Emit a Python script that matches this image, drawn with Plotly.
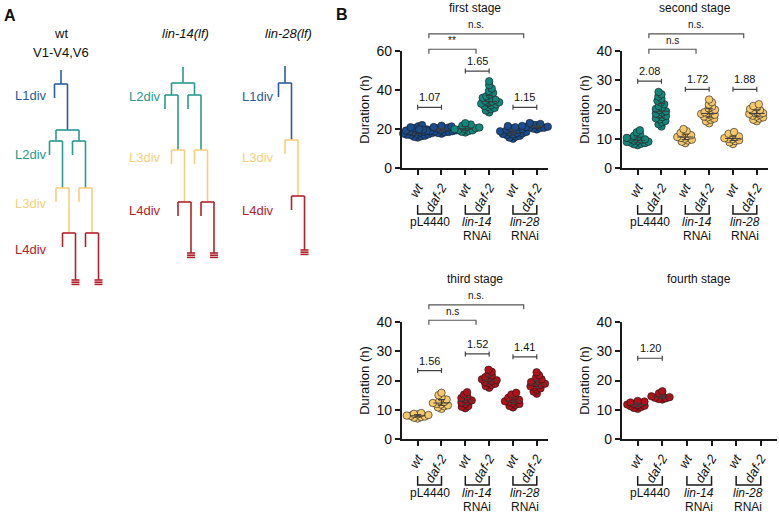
import numpy as np
import plotly.graph_objects as go

W, H = 779, 513
OFF = 0                  # page body margin is reset to 0 in the written page
FW, FH = W - OFF, H - OFF
FONT = "Arial, 'Liberation Sans', sans-serif"

# ---------------- data ----------------
stage_titles = ["first stage", "second stage", "third stage", "fourth stage"]
tick_text = ["<i>wt</i>", "<i>daf-2</i>", "<i>wt</i>", "<i>daf-2</i>", "<i>wt</i>", "<i>daf-2</i>"]
group_line1 = ["pL4440", "<i>lin-14</i>", "<i>lin-28</i>"]
group_line2 = ["", "RNAi", "RNAi"]
y_max = [60, 40, 40, 40]
y_dtick = [20, 10, 10, 10]

# first stage (h)
first_pl_wt = [15.6, 16.0, 16.3, 16.6, 16.9, 17.1, 17.3, 17.5, 17.7, 17.9, 18.0, 18.2, 18.4, 18.6,
               18.8, 19.0, 19.2, 19.5, 19.8, 20.1, 20.5, 20.9, 21.4, 22.0]
first_pl_daf = [17.6, 18.0, 18.3, 18.5, 18.7, 18.9, 19.0, 19.1, 19.3, 19.4, 19.5, 19.6, 19.8, 20.0,
                20.2, 20.4, 20.7, 21.0, 21.3, 21.7]
first_14_wt = [18.2, 18.6, 19.0, 19.3, 19.6, 19.9, 20.1, 20.4, 20.8, 21.2, 21.7, 22.3, 23.0]
first_14_daf = [28.5, 29.5, 30.2, 30.8, 31.3, 31.8, 32.2, 32.6, 33.0, 33.3, 33.7, 34.1, 34.5, 35.0,
                35.5, 36.0, 36.8, 37.6, 38.5, 39.5, 40.8, 42.5, 44.5]
first_28_wt = [15.0, 15.6, 16.1, 16.5, 16.9, 17.2, 17.5, 17.8, 18.0, 18.3, 18.5, 18.8, 19.1, 19.4,
               19.7, 20.0, 20.4, 20.9, 21.5]
first_28_daf = [19.8, 20.2, 20.5, 20.7, 20.9, 21.0, 21.2, 21.4, 21.6, 21.9, 22.2, 22.6, 23.1]

# second stage (h)
second_pl_wt = [7.8, 8.1, 8.3, 8.5, 8.7, 8.9, 9.0, 9.2, 9.4, 9.6, 9.8, 10.0, 10.3, 10.6, 11.0,
                11.6, 12.2, 12.9]
second_pl_daf = [14.2, 15.0, 15.6, 16.1, 16.6, 17.0, 17.4, 17.8, 18.2, 18.6, 19.0, 19.4, 19.8,
                 20.2, 20.7, 21.2, 21.8, 22.4, 23.0, 23.7, 24.4, 25.2, 26.0]
second_14_wt = [8.5, 9.0, 9.4, 9.7, 10.0, 10.3, 10.6, 10.9, 11.2, 11.6, 12.0, 12.6, 13.3]
second_14_daf = [15.3, 16.0, 16.5, 16.9, 17.3, 17.6, 17.9, 18.2, 18.5, 18.8, 19.1, 19.5, 19.9,
                 20.4, 21.0, 21.7, 22.5, 23.4]
second_28_wt = [8.2, 8.8, 9.2, 9.5, 9.8, 10.0, 10.2, 10.5, 10.8, 11.2, 11.7, 12.3]
second_28_daf = [16.0, 16.5, 16.9, 17.3, 17.6, 17.9, 18.2, 18.5, 18.8, 19.1, 19.4, 19.8, 20.2,
                 20.7, 21.2, 21.8]

# third stage (h)
third_pl_wt = [7.0, 7.3, 7.5, 7.7, 7.9, 8.0, 8.2, 8.4, 8.6, 8.9]
third_pl_daf = [10.3, 10.8, 11.2, 11.5, 11.8, 12.0, 12.3, 12.6, 13.0, 13.5, 14.2, 15.0, 15.8]
third_14_wt = [10.5, 11.0, 11.3, 12.0, 12.4, 12.8, 13.2, 13.5, 14.0, 14.5, 15.2, 16.0]
third_14_daf = [17.5, 18.1, 18.5, 18.9, 19.2, 19.5, 19.8, 20.1, 20.4, 20.8, 21.2, 21.7, 22.3,
                23.0, 23.7]
third_28_wt = [10.8, 11.3, 11.7, 12.0, 12.3, 12.6, 12.9, 13.1, 13.4, 13.7, 14.1, 14.6, 15.2, 15.8]
third_28_daf = [15.5, 16.2, 16.8, 17.3, 17.7, 18.0, 18.3, 18.6, 18.9, 19.2, 19.5, 19.9, 20.4,
                21.0, 21.8, 22.8]

# fourth stage (h)
fourth_pl_wt = [10.3, 10.6, 10.9, 11.2, 11.4, 11.6, 11.8, 12.0, 12.2, 12.5, 12.8, 13.0]
fourth_pl_daf = [13.5, 13.7, 13.9, 14.1, 14.3, 14.6, 15.0, 15.6, 16.3]

# fold-change labels (wt vs daf-2 within each RNAi) and their bracket heights (h)
fold_labels = [["1.07", "1.65", "1.15"], ["2.08", "1.72", "1.88"],
               ["1.56", "1.52", "1.41"], ["1.20", None, None]]
fold_heights = [[31.1, 49.7, 31.1], [29.7, 26.9, 26.9],
                [23.4, 29.1, 28.1], [27.6, None, None]]
# comparison of daf-2 effect against pL4440: (vs lin-14, vs lin-28)
comp_labels = [["**", "n.s."], ["n.s", "n.s."], ["n.s", "n.s."], [None, None]]

BLUE, TEAL, YELLOW, RED = "#1b4d8d", "#14877c", "#f6c86c", "#b0111a"
stage_data = [
    [first_pl_wt, first_pl_daf, first_14_wt, first_14_daf, first_28_wt, first_28_daf],
    [second_pl_wt, second_pl_daf, second_14_wt, second_14_daf, second_28_wt, second_28_daf],
    [third_pl_wt, third_pl_daf, third_14_wt, third_14_daf, third_28_wt, third_28_daf],
    [fourth_pl_wt, fourth_pl_daf, [], [], [], []],
]
stage_colors = [
    [BLUE, BLUE, TEAL, TEAL, BLUE, BLUE],
    [TEAL, TEAL, YELLOW, YELLOW, YELLOW, YELLOW],
    [YELLOW, YELLOW, RED, RED, RED, RED],
    [RED, RED, RED, RED, RED, RED],
]

# lineage schematics (panel A): division events (kind, level, colour)
T_BLUE, T_TEAL, T_YEL, T_RED = "#2b5d9c", "#2a9a90", "#f7cf7c", "#b3222a"
tree_headers = [["wt", "V1-V4,V6"], ["<i>lin-14(lf)</i>"], ["<i>lin-28(lf)</i>"]]
tree_events = [
    [("asym", 84, T_BLUE), ("sym", 130, T_TEAL), ("asym", 141, T_TEAL), ("asym", 188, T_YEL), ("asym", 233, T_RED)],
    [("sym", 83, T_TEAL), ("asym", 95, T_TEAL), ("asym", 150, T_YEL), ("asym", 202, T_RED)],
    [("asym", 83, T_BLUE), ("asym", 140, T_YEL), ("asym", 196, T_RED)],
]
tree_labels = [
    [("L1div", 95, T_BLUE), ("L2div", 154, T_TEAL), ("L3div", 203, T_YEL), ("L4div", 249, T_RED)],
    [("L2div", 96, T_TEAL), ("L3div", 157, T_YEL), ("L4div", 210, T_RED)],
    [("L1div", 96, T_BLUE), ("L3div", 157, T_YEL), ("L4div", 210, T_RED)],
]

# ---------------- layout geometry (window pixels) ----------------
x_dom_px = [(401.7, 548), (621.7, 768), (401.7, 548), (621.7, 777)]
x_rng = [(-0.67, 5.47), (-0.67, 5.47), (-0.67, 5.47), (-0.65, 5.66)]
y_dom_px = [(51, 168), (51, 168), (322, 439), (322, 439)]
tree_root = [(61, 70, 280), (183, 67, 253), (285, 66, 250)]
tree_label_x = [13, 127, 240]
tree_header_x = [61, 185, 288]


def px_x(p):
    return (p - OFF) / FW


def px_y(p):
    return 1 - (p - OFF) / FH


fig = go.Figure()


def swarm(vals, ppx, ppy, d=3.8):
    vals = np.asarray(vals, float)
    order = np.argsort(vals)
    placed = []
    off = np.zeros(len(vals))
    for i in order:
        y = vals[i] * ppy
        forb = []
        for xp, yp in placed:
            dy = abs(y - yp)
            if dy < d:
                dx = np.sqrt(d * d - dy * dy)
                forb.append((xp - dx, xp + dx))
        cands = [0.0] + [e for iv in forb for e in iv]
        cands.sort(key=lambda c: (abs(c), c))
        xx = 0.0
        for c in cands:
            if all(not (lo + 1e-6 < c < hi - 1e-6) for lo, hi in forb):
                xx = c
                break
        placed.append((xx, y))
        off[i] = xx / ppx
    return off


layout_axes = {}
annotations = []
shapes = []
for s in range(4):
    n = "" if s == 0 else str(s + 1)
    xa, ya = "x" + n, "y" + n
    x0p, x1p = x_dom_px[s]
    y0p, y1p = y_dom_px[s]
    ppx = (x1p - x0p) / (x_rng[s][1] - x_rng[s][0])
    ppy = (y1p - y0p) / y_max[s]
    axis_common = dict(showline=True, linecolor="#1a1a1a", linewidth=1.5, ticks="outside",
                       ticklen=5, tickwidth=1.5, tickcolor="#1a1a1a", showgrid=False,
                       zeroline=False, fixedrange=True)
    layout_axes["xaxis" + n] = dict(domain=[px_x(x0p), px_x(x1p)], range=list(x_rng[s]), anchor=ya,
                                    tickvals=list(range(6)), ticktext=tick_text, tickangle=-60,
                                    tickfont=dict(size=13, color="#111"), **axis_common)
    layout_axes["yaxis" + n] = dict(domain=[px_y(y1p), px_y(y0p)], range=[0, y_max[s]], anchor=xa,
                                    dtick=y_dtick[s], tickfont=dict(size=14, color="#111"),
                                    title=dict(text="Duration (h)", font=dict(size=13, color="#111"),
                                               standoff=4), **axis_common)
    # points
    for g in range(6):
        vals = stage_data[s][g]
        if not vals:
            continue
        off = swarm(vals, ppx, ppy)
        fig.add_trace(go.Scatter(x=g + off, y=vals, mode="markers", xaxis=xa, yaxis=ya,
                                 marker=dict(size=7.5, color=stage_colors[s][g],
                                             line=dict(color="#1a1a1a", width=0.6)),
                                 showlegend=False, hoverinfo="skip", cliponaxis=False))
        med = float(np.median(vals))
        q1, q3 = np.percentile(vals, [25, 75])
        fig.add_trace(go.Scatter(x=[g - 0.33, g + 0.33, None, g, g, None, g - 0.15, g + 0.15, None,
                                    g - 0.15, g + 0.15],
                                 y=[med, med, None, q1, q3, None, q1, q1, None, q3, q3],
                                 mode="lines", line=dict(color="#3d3d3d", width=1),
                                 xaxis=xa, yaxis=ya, showlegend=False, hoverinfo="skip"))
    # stage title
    annotations.append(dict(text=stage_titles[s], xref="paper", yref="paper",
                            x=px_x((x0p + x1p) / 2), y=px_y(y0p - 43), showarrow=False,
                            font=dict(size=12, color="#111"), xanchor="center", yanchor="middle"))
    # group brackets below axis
    for k in range(3):
        a, b = 2 * k, 2 * k + 1
        shapes.append(dict(type="path", xref=xa, yref=ya + " domain",
                           path=f"M {a},-0.316 L {a},-0.393 L {b},-0.393 L {b},-0.316",
                           line=dict(color="#1a1a1a", width=1.5)))
        annotations.append(dict(text=group_line1[k], xref=xa, yref=ya + " domain", x=(a + b) / 2,
                                y=-0.462, showarrow=False, font=dict(size=12, color="#111"),
                                yanchor="middle"))
        if group_line2[k]:
            annotations.append(dict(text=group_line2[k], xref=xa, yref=ya + " domain", x=(a + b) / 2,
                                    y=-0.585, showarrow=False, font=dict(size=12, color="#111"),
                                    yanchor="middle"))
    # fold-change brackets
    for k in range(3):
        lab = fold_labels[s][k]
        if lab is None:
            continue
        hgt = fold_heights[s][k]
        a, b = 2 * k, 2 * k + 1
        t = 2.5 / ppy
        shapes.append(dict(type="path", xref=xa, yref=ya,
                           path=f"M {a},{hgt - t} L {a},{hgt + t} M {a},{hgt} L {b},{hgt} M {b},{hgt - t} L {b},{hgt + t}",
                           line=dict(color="#444", width=1.2)))
        annotations.append(dict(text=lab, xref=xa, yref=ya, x=(a + b) / 2, y=hgt + 10 / ppy,
                                showarrow=False, font=dict(size=11, color="#111"), yanchor="middle"))
    # comparison brackets above plot
    for k, (lab, lev) in enumerate(zip(comp_labels[s], [1.015, 1.147])):
        if lab is None:
            continue
        a, b = 0.47, 2.45 + 2 * k
        drop = 4.5 / (y1p - y0p)
        shapes.append(dict(type="path", xref=xa, yref=ya + " domain",
                           path=f"M {a},{lev - drop} L {a},{lev} L {b},{lev} L {b},{lev - drop}",
                           line=dict(color="#555", width=1.2)))
        annotations.append(dict(text=lab, xref=xa, yref=ya + " domain", x=(a + b) / 2,
                                y=lev + 1.5 / (y1p - y0p), showarrow=False,
                                font=dict(size=10, color="#111"), yanchor="bottom"))

# ---------------- panel A: lineage trees ----------------
HW_ASYM, HW_SYM, STUB = 6.5, 11.5, 14
for t, events in enumerate(tree_events):
    x_root, y_root, y_end = tree_root[t]
    segs = {}

    def add(col, xs, ys):
        segs.setdefault(col, ([], []))
        segs[col][0].extend(xs + [None])
        segs[col][1].extend(ys + [None])

    active = [x_root]
    add(events[0][2], [x_root, x_root], [y_root, events[0][1]])
    for e, (kind, yv, col) in enumerate(events):
        new = []
        for xc in active:
            if kind == "asym":
                add(col, [xc - HW_ASYM, xc + HW_ASYM], [yv, yv])
                add(col, [xc - HW_ASYM, xc - HW_ASYM], [yv, yv + STUB])
                new.append(xc + HW_ASYM)
            else:
                add(col, [xc - HW_SYM, xc + HW_SYM], [yv, yv])
                new += [xc - HW_SYM, xc + HW_SYM]
        y_next = events[e + 1][1] if e + 1 < len(events) else y_end
        for xc in new:
            add(col, [xc, xc], [yv, y_next])
        active = new
    last_col = events[-1][2]
    for xc in active:
        for j in range(3):
            add(last_col, [xc - 4, xc + 4], [y_end + 2.2 * j, y_end + 2.2 * j])
    for col, (xs, ys) in segs.items():
        fig.add_trace(go.Scatter(x=xs, y=ys, mode="lines", line=dict(color=col, width=1.6),
                                 xaxis="x5", yaxis="y5", showlegend=False, hoverinfo="skip"))
    for lab, yl, col in tree_labels[t]:
        annotations.append(dict(text=lab, xref="x5", yref="y5", x=tree_label_x[t], y=yl,
                                xanchor="left", yanchor="middle", showarrow=False,
                                font=dict(size=13, color=col)))
    for j, hdr in enumerate(tree_headers[t]):
        annotations.append(dict(text=hdr, xref="x5", yref="y5", x=tree_header_x[t], y=33 + 19 * j,
                                showarrow=False, font=dict(size=13, color="#111"), yanchor="middle"))

layout_axes["xaxis5"] = dict(domain=[0, px_x(330)], range=[OFF, 330], visible=False, anchor="y5", fixedrange=True)
layout_axes["yaxis5"] = dict(domain=[0, 1], range=[H, OFF], visible=False, anchor="x5", fixedrange=True)

annotations.append(dict(text="<b>A</b>", xref="x5", yref="y5", x=2, y=15, xanchor="left",
                        yanchor="middle", showarrow=False, font=dict(size=16, color="#111")))
annotations.append(dict(text="<b>B</b>", xref="paper", yref="paper", x=px_x(334), y=px_y(15),
                        xanchor="left", yanchor="middle", showarrow=False,
                        font=dict(size=16, color="#111")))

fig.update_layout(width=FW, height=FH, margin=dict(l=0, r=0, t=0, b=0), template="none",
                  paper_bgcolor="white", plot_bgcolor="rgba(0,0,0,0)",
                  font=dict(family=FONT, color="#111"), showlegend=False, hovermode=False,
                  annotations=annotations, shapes=shapes, **layout_axes)
fig.write_html("out.html", config={"displayModeBar": False},
               post_script="document.body.style.margin='0px';document.body.style.padding='0px';")
